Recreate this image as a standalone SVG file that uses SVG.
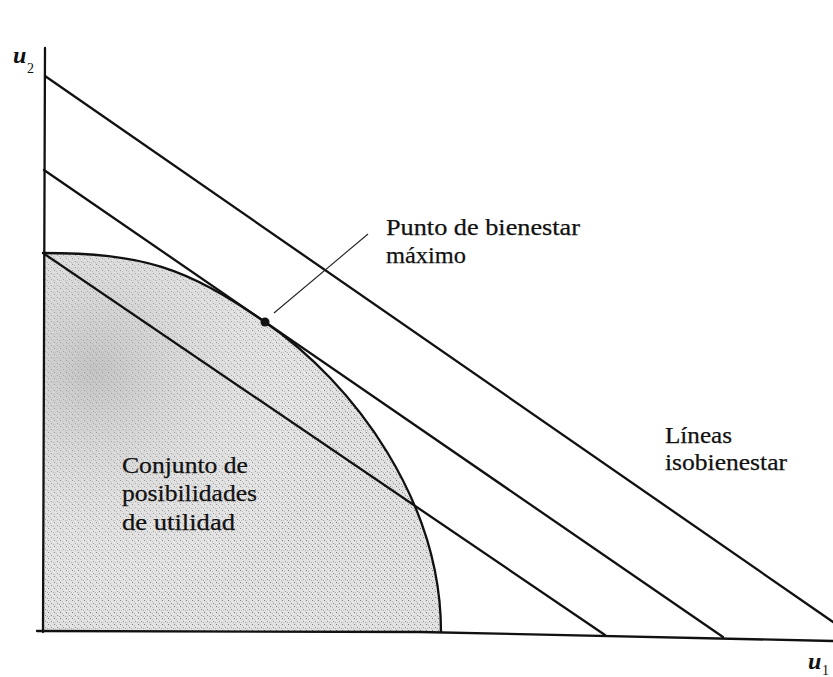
<svg xmlns="http://www.w3.org/2000/svg" width="833" height="677" viewBox="0 0 833 677">
<style>
.ln{stroke:#111;stroke-width:2.3;fill:none;stroke-linecap:round}
.thin{stroke:#222;stroke-width:1.1;fill:none}
.t{font-family:"Liberation Serif","Times New Roman",serif;font-size:24px;fill:#111;stroke:#111;stroke-width:0.25}
.ax{font-family:"Liberation Serif","Times New Roman",serif;font-style:italic;font-weight:bold;fill:#111}
.sub{font-family:"Liberation Serif","Times New Roman",serif;font-size:14px;fill:#111}
</style>
<defs>
<pattern id="stip" width="6" height="6" patternUnits="userSpaceOnUse">
<rect width="6" height="6" fill="#e2e2e2"/>
<rect x="0" y="0" width="1" height="1" fill="#7a7a7a"/>
<rect x="3" y="3" width="1" height="1" fill="#8c8c8c"/>
<rect x="2" y="1" width="1" height="1" fill="#b5b5b5"/>
<rect x="5" y="4" width="1" height="1" fill="#a8a8a8"/>
<rect x="1" y="4" width="1" height="1" fill="#c4c4c4"/>
</pattern>
<radialGradient id="shade" cx="95" cy="370" r="250" gradientUnits="userSpaceOnUse">
<stop offset="0" stop-color="#b0b0b0" stop-opacity="0.6"/>
<stop offset="1" stop-color="#ffffff" stop-opacity="0"/>
</radialGradient>
</defs>
<rect width="833" height="677" fill="#fff"/>
<g id="region">
<path d="M43,253 C143,253 185,267 265,322 C355,384 441,502 441,632 L43,632 Z" fill="url(#stip)"/>
<path d="M43,253 C143,253 185,267 265,322 C355,384 441,502 441,632 L43,632 Z" fill="url(#shade)"/>
<path d="M43,253 C143,253 185,267 265,322 C355,384 441,502 441,632" class="ln"/>
</g>
<g id="axes">
<line x1="45" y1="48" x2="43" y2="632" class="ln"/>
<polyline points="37,631 420,632 833,641" class="ln"/>
<text class="ax" x="13" y="63" font-size="24">u</text>
<text class="sub" x="27" y="73">2</text>
<text class="ax" x="808" y="669" font-size="24">u</text>
<text class="sub" x="822" y="675">1</text>
</g>
<g id="connectors">
<line x1="45" y1="76" x2="833" y2="622" class="ln"/>
<line x1="44" y1="170" x2="723" y2="637" class="ln"/>
<line x1="43" y1="253" x2="605" y2="635" class="ln"/>
<line x1="274" y1="313" x2="368" y2="234" class="thin"/>
</g>
<g id="optimum">
<circle cx="265" cy="322" r="4.5" fill="#111"/>
</g>
<g id="label-optimum">
<text class="t" x="386" y="235" textLength="194" lengthAdjust="spacingAndGlyphs">Punto de bienestar</text>
<text class="t" x="386" y="263" textLength="80" lengthAdjust="spacingAndGlyphs">máximo</text>
</g>
<g id="label-lines">
<text class="t" x="665" y="443" textLength="67" lengthAdjust="spacingAndGlyphs">Líneas</text>
<text class="t" x="665" y="470" textLength="122" lengthAdjust="spacingAndGlyphs">isobienestar</text>
</g>
<g id="label-set">
<text class="t" x="122" y="473" textLength="126" lengthAdjust="spacingAndGlyphs">Conjunto de</text>
<text class="t" x="122" y="501" textLength="135" lengthAdjust="spacingAndGlyphs">posibilidades</text>
<text class="t" x="122" y="530" textLength="113" lengthAdjust="spacingAndGlyphs">de utilidad</text>
</g>
</svg>
